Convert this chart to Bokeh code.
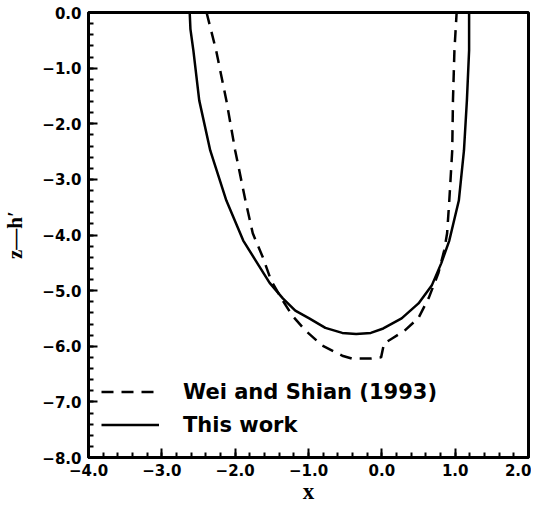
from bokeh.plotting import figure
from bokeh.models import Legend, LegendItem, FixedTicker, Range1d
from bokeh.embed import file_html
from bokeh.resources import INLINE

# "This work" (solid)
work_x = [-2.62, -2.61, -2.57, -2.49, -2.34, -2.12, -1.89, -1.72, -1.53, -1.35, -1.18, -0.99,
          -0.77, -0.54, -0.35, -0.15, 0.02, 0.27, 0.50, 0.68, 0.81, 0.92, 1.05, 1.12, 1.16,
          1.19, 1.19]
work_y = [0.0, -0.30, -0.68, -1.58, -2.48, -3.38, -4.10, -4.46, -4.86, -5.14, -5.36, -5.50,
          -5.67, -5.76, -5.78, -5.76, -5.68, -5.50, -5.23, -4.91, -4.51, -4.10, -3.38, -2.48,
          -1.58, -0.68, 0.0]

# Wei and Shian (1993) (dashed)
wei_x = [-2.39, -2.26, -2.12, -2.00, -1.86, -1.76, -1.62, -1.51, -1.35, -1.22, -1.04, -0.81,
         -0.54, -0.41, -0.14, -0.01, 0.03, 0.14, 0.31, 0.50, 0.64, 0.77, 0.85, 0.89, 0.92,
         0.96, 0.97, 0.99, 1.02]
wei_y = [0.0, -0.68, -1.58, -2.48, -3.38, -3.97, -4.41, -4.82, -5.18, -5.45, -5.72, -5.99,
         -6.17, -6.22, -6.22, -6.20, -5.95, -5.86, -5.72, -5.49, -5.13, -4.69, -4.28, -3.97,
         -3.38, -2.48, -1.58, -0.68, 0.0]

x_ticks = [-4, -3, -2, -1, 0, 1, 2]
x_tick_labels = ["\u22124.0", "\u22123.0", "\u22122.0", "\u22121.0", "0.0", "1.0", "2.0"]
y_ticks = [0, -1, -2, -3, -4, -5, -6, -7, -8]
y_tick_labels = ["0.0", "\u22121.0", "\u22122.0", "\u22123.0", "\u22124.0", "\u22125.0",
                 "\u22126.0", "\u22127.0", "\u22128.0"]

p = figure(width=531, height=506, output_backend="svg", toolbar_location=None,
           x_range=Range1d(-4, 2), y_range=Range1d(-8, 0),
           min_border_left=84, min_border_right=3, min_border_top=12, min_border_bottom=49)
p.grid.visible = False
p.outline_line_color = "black"
p.outline_line_width = 3
p.background_fill_color = "white"
p.border_fill_color = "white"

minor_x = [round(-4 + 0.2 * i, 2) for i in range(31)]
minor_y = [round(-8 + 0.2 * i, 2) for i in range(41)]
p.xaxis.ticker = FixedTicker(ticks=x_ticks, minor_ticks=minor_x)
p.yaxis.ticker = FixedTicker(ticks=y_ticks, minor_ticks=minor_y)
p.xaxis.major_label_overrides = dict(zip(x_ticks, x_tick_labels))
p.yaxis.major_label_overrides = dict(zip(y_ticks, y_tick_labels))

for ax in (p.xaxis[0], p.yaxis[0]):
    ax.axis_line_width = 3
    ax.major_tick_in = 9
    ax.major_tick_out = 0
    ax.minor_tick_in = 5
    ax.minor_tick_out = 0
    ax.major_tick_line_width = 2
    ax.minor_tick_line_width = 2
    ax.major_label_text_font = "DejaVu Sans"
    ax.major_label_text_font_style = "bold"
    ax.major_label_text_font_size = "15px"
    ax.major_label_text_color = "black"
    ax.axis_label_text_font = "Liberation Serif"
    ax.axis_label_text_font_style = "bold"
    ax.axis_label_text_color = "black"

p.xaxis.major_label_standoff = 6
p.yaxis.major_label_standoff = 7
p.xaxis.axis_label = "x"
p.xaxis.axis_label_text_font_size = "23px"
p.xaxis.axis_label_standoff = 0
p.yaxis.axis_label = "z\u2014h\u2032"
p.yaxis.axis_label_text_font_size = "21px"
p.yaxis.axis_label_standoff = 12

r_wei = p.line(wei_x, wei_y, line_color="black", line_width=2.5, line_dash="12 8")
r_work = p.line(work_x, work_y, line_color="black", line_width=2.5)

legend = Legend(items=[LegendItem(label="Wei and Shian (1993)", renderers=[r_wei]),
                       LegendItem(label="This work", renderers=[r_work])],
                location=(13, 20), glyph_width=58, glyph_height=25, label_height=25,
                label_standoff=24, spacing=8, padding=0, margin=0,
                border_line_color=None, background_fill_alpha=0,
                label_text_font="DejaVu Sans", label_text_font_style="bold",
                label_text_font_size="21px", label_text_color="black")
p.add_layout(legend)

open("out.html", "w").write(file_html(p, INLINE))
